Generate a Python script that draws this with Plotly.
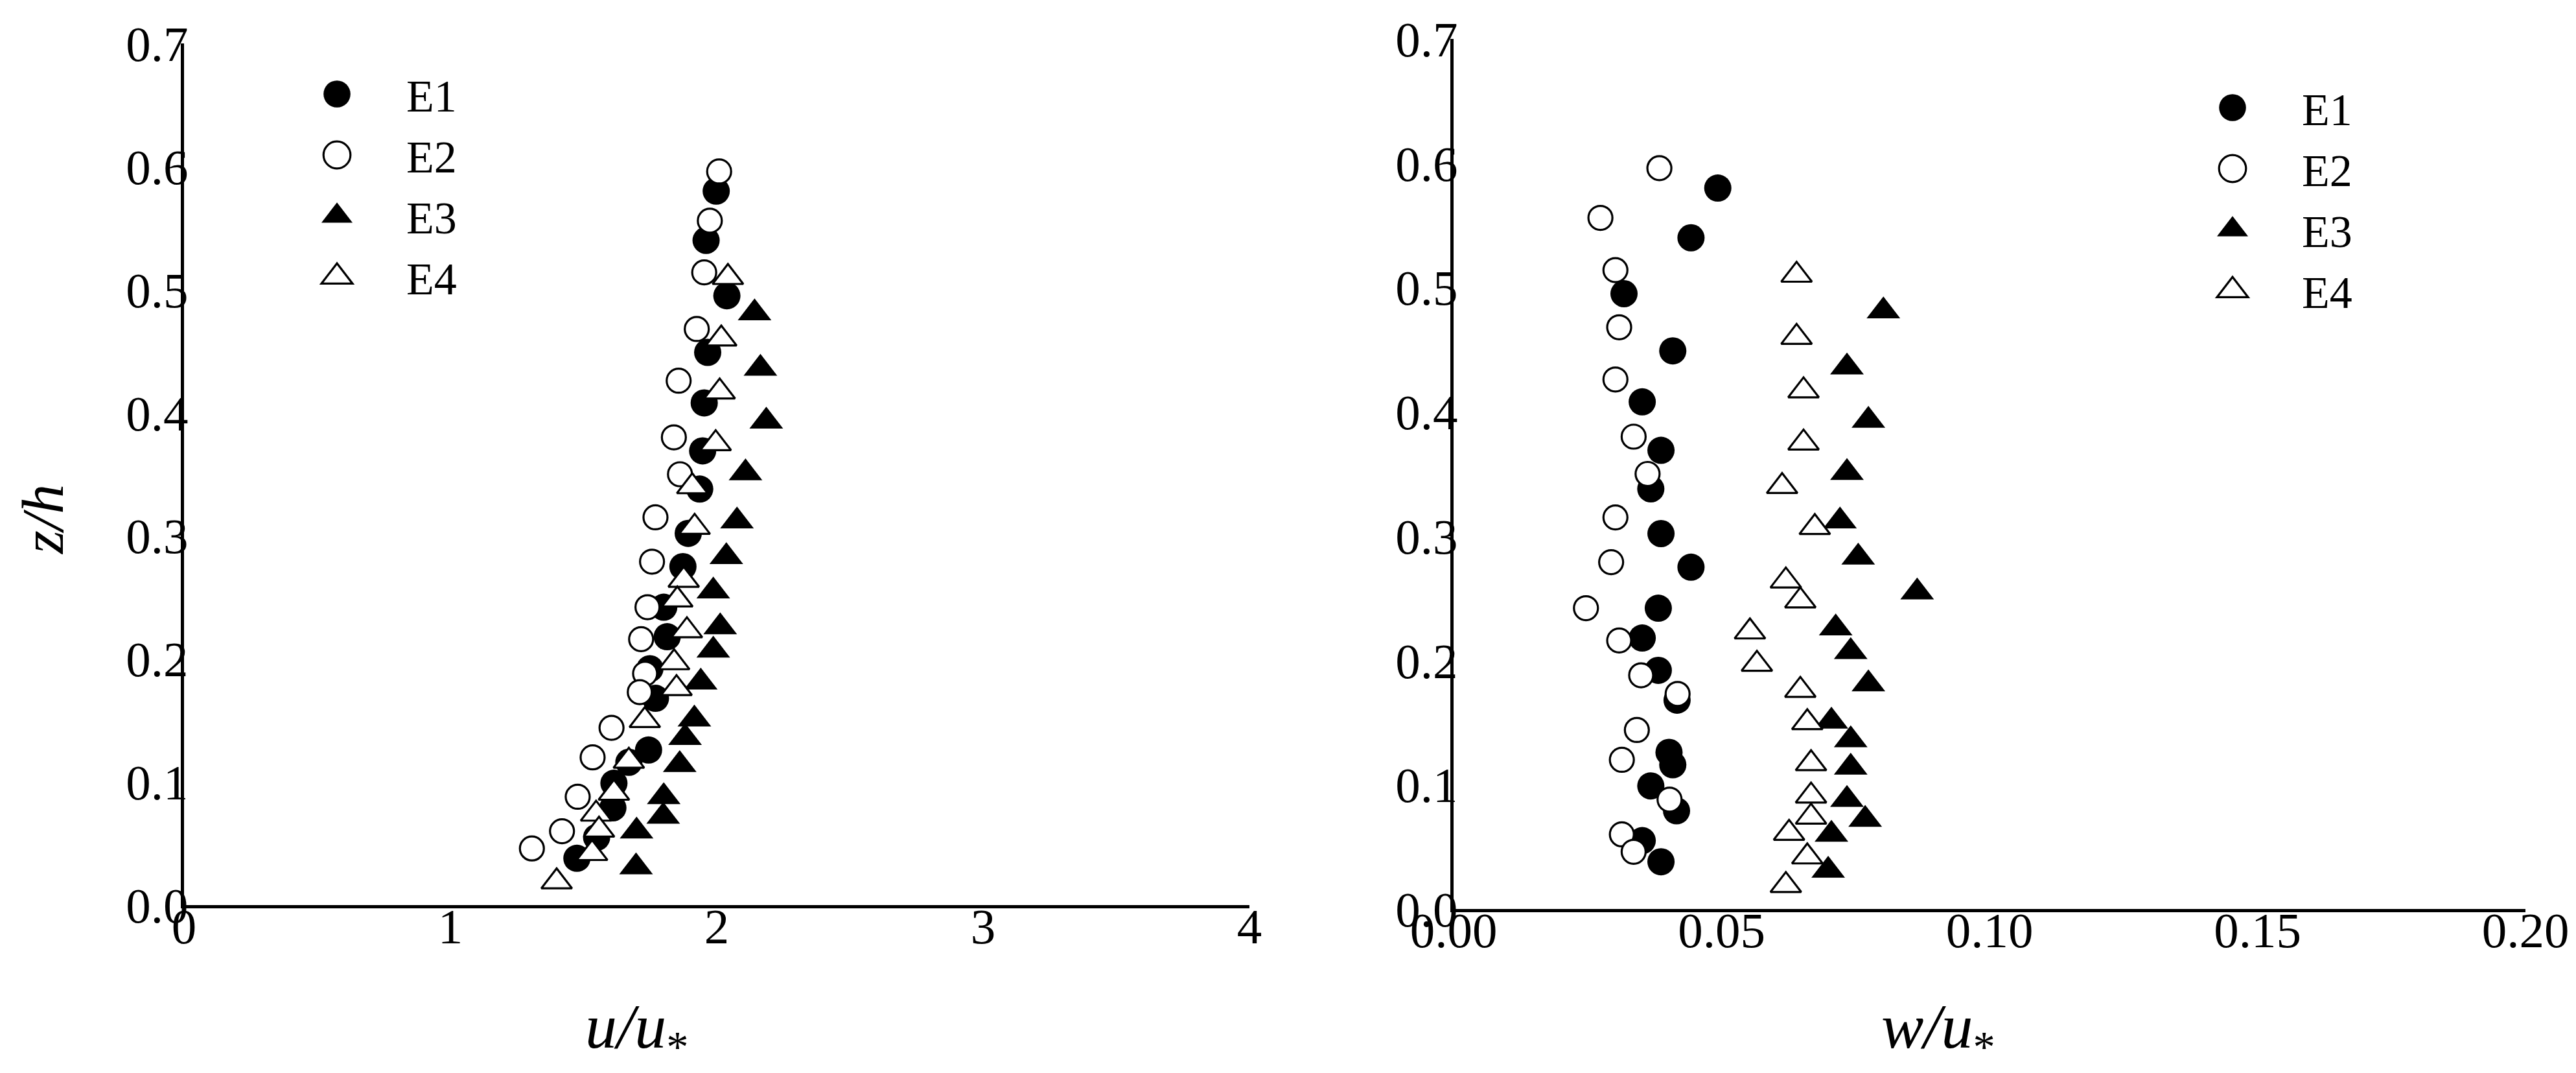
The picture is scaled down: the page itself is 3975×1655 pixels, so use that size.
import plotly.graph_objects as go

W, H = 3975, 1655
FONT = "Liberation Serif, Times New Roman, Times, serif"

# ---------------- data ----------------
# heights z/h for each run
E1_z = [0.580, 0.540, 0.495, 0.449, 0.408, 0.369, 0.338, 0.302, 0.275, 0.242,
        0.218, 0.192, 0.168, 0.126, 0.116, 0.099, 0.079, 0.055, 0.038]
E2_z = [0.596, 0.556, 0.514, 0.468, 0.426, 0.380, 0.350, 0.315, 0.279, 0.242,
        0.216, 0.188, 0.173, 0.144, 0.120, 0.088, 0.060, 0.046]
E3_z = [0.481, 0.436, 0.393, 0.351, 0.312, 0.283, 0.255, 0.226, 0.207, 0.181,
        0.151, 0.136, 0.114, 0.088, 0.072, 0.060, 0.031]
E4_z = [0.510, 0.460, 0.417, 0.375, 0.340, 0.307, 0.264, 0.248, 0.223, 0.197,
        0.176, 0.150, 0.117, 0.091, 0.074, 0.061, 0.042, 0.019]

# mean streamwise velocity u/u*
E1_u = [1.998, 1.960, 2.038, 1.966, 1.953, 1.947, 1.936, 1.893, 1.873, 1.801,
        1.814, 1.749, 1.770, 1.744, 1.670, 1.614, 1.610, 1.549, 1.475]
E2_u = [2.009, 1.974, 1.953, 1.925, 1.857, 1.839, 1.862, 1.770, 1.757, 1.740,
        1.716, 1.731, 1.711, 1.605, 1.534, 1.478, 1.419, 1.306]
E3_u = [2.142, 2.164, 2.186, 2.108, 2.076, 2.036, 1.987, 2.013, 1.987, 1.940,
        1.916, 1.881, 1.861, 1.801, 1.799, 1.699, 1.697]
E4_u = [2.042, 2.017, 2.011, 1.996, 1.908, 1.917, 1.876, 1.852, 1.888, 1.840,
        1.849, 1.730, 1.670, 1.614, 1.547, 1.558, 1.532, 1.399]

# mean vertical velocity w/u*
E1_w = [0.0493, 0.0443, 0.0318, 0.0409, 0.0352, 0.0387, 0.0368, 0.0387, 0.0443, 0.0382,
        0.0352, 0.0382, 0.0417, 0.0402, 0.0409, 0.0368, 0.0416, 0.0352, 0.0387]
E2_w = [0.0384, 0.0274, 0.0302, 0.0309, 0.0302, 0.0336, 0.0362, 0.0302, 0.0294, 0.0247,
        0.0309, 0.0350, 0.0418, 0.0342, 0.0314, 0.0403, 0.0314, 0.0336]
E3_w = [0.0802, 0.0734, 0.0774, 0.0734, 0.0721, 0.0755, 0.0865, 0.0713, 0.0741, 0.0774,
        0.0705, 0.0741, 0.0741, 0.0734, 0.0768, 0.0705, 0.0699]
E4_w = [0.0640, 0.0640, 0.0653, 0.0653, 0.0613, 0.0674, 0.0620, 0.0647, 0.0553, 0.0566,
        0.0647, 0.0660, 0.0667, 0.0667, 0.0667, 0.0626, 0.0660, 0.0620]

names = ["E1", "E2", "E3", "E4"]
u_tickvals = [0, 1, 2, 3, 4]
w_tickvals = [0.00, 0.05, 0.10, 0.15, 0.20]
z_tickvals = [0.0, 0.1, 0.2, 0.3, 0.4, 0.5, 0.6, 0.7]

# ---------------- styling ----------------
styles = {
    "E1": dict(symbol="circle", size=42, color="black", line=dict(width=0, color="black")),
    "E2": dict(symbol="circle", size=37, color="white", line=dict(width=3.2, color="black")),
    "E3": dict(symbol="triangle-up", size=45, color="black", line=dict(width=0, color="black")),
    "E4": dict(symbol="triangle-up", size=41, color="white", line=dict(width=3.2, color="black")),
}

left = {"E1": (E1_u, E1_z), "E2": (E2_u, E2_z), "E3": (E3_u, E3_z), "E4": (E4_u, E4_z)}
right = {"E1": (E1_w, E1_z), "E2": (E2_w, E2_z), "E3": (E3_w, E3_z), "E4": (E4_w, E4_z)}

fig = go.Figure()
for n in names:
    x, y = left[n]
    fig.add_trace(go.Scatter(x=x, y=y, mode="markers", name=n, marker=styles[n],
                             xaxis="x", yaxis="y", legend="legend", cliponaxis=False))
for n in names:
    x, y = right[n]
    fig.add_trace(go.Scatter(x=x, y=y, mode="markers", name=n, marker=styles[n],
                             xaxis="x2", yaxis="y2", legend="legend2", cliponaxis=False))

def px_x(p):
    return p / W

def px_y(p):
    return (H - p) / H

axis_common = dict(showline=True, linewidth=5, linecolor="black", showgrid=False,
                   zeroline=False, ticks="", mirror=False, automargin=False,
                   tickfont=dict(family=FONT, size=77, color="black"))
x_extra = dict(ticklabelstandoff=-38)
y_extra = dict(ticklabelstandoff=-27)

fig.update_layout(
    template="none",
    width=W, height=H,
    margin=dict(l=0, r=0, t=0, b=0, pad=0, autoexpand=False),
    paper_bgcolor="white", plot_bgcolor="white",
    font=dict(family=FONT, color="black"),
    xaxis=dict(domain=[px_x(284), px_x(1928)], range=[0, 4], tickvals=u_tickvals,
               ticktext=[str(v) for v in u_tickvals], anchor="y", **axis_common, **x_extra),
    yaxis=dict(domain=[px_y(1396), px_y(67)], range=[0, 0.7], tickvals=z_tickvals,
               ticktext=["%.1f" % v for v in z_tickvals], anchor="x", **axis_common, **y_extra),
    xaxis2=dict(domain=[px_x(2243), px_x(3897)], range=[0, 0.2], tickvals=w_tickvals,
                ticktext=["%.2f" % v for v in w_tickvals], anchor="y2", **axis_common, **x_extra),
    yaxis2=dict(domain=[px_y(1402), px_y(60)], range=[0, 0.7], tickvals=z_tickvals,
                ticktext=["%.1f" % v for v in z_tickvals], anchor="x2", **axis_common, **y_extra),
    legend=dict(x=px_x(413), y=px_y(93), xanchor="left", yanchor="top",
                font=dict(family=FONT, size=70, color="black"), itemwidth=204,
                bgcolor="rgba(0,0,0,0)", borderwidth=0, tracegroupgap=0),
    legend2=dict(x=px_x(3338), y=px_y(114), xanchor="left", yanchor="top",
                 font=dict(family=FONT, size=70, color="black"), itemwidth=204,
                 bgcolor="rgba(0,0,0,0)", borderwidth=0, tracegroupgap=0),
    showlegend=True,
)

fig.add_annotation(text="<i>u/u</i><sub>*</sub>", xref="paper", yref="paper",
                   x=px_x(901), y=px_y(1590), xanchor="left", yanchor="middle",
                   showarrow=False, font=dict(family=FONT, size=98, color="black"))
fig.add_annotation(text="<i>w/u</i><sub>*</sub>", xref="paper", yref="paper",
                   x=px_x(2901), y=px_y(1590), xanchor="left", yanchor="middle",
                   showarrow=False, font=dict(family=FONT, size=98, color="black"))
fig.add_annotation(text="<i>z/h</i>", xref="paper", yref="paper",
                   x=px_x(66), y=px_y(802), xanchor="center", yanchor="middle",
                   textangle=-90, showarrow=False,
                   font=dict(family=FONT, size=92, color="black"))

post = """
document.body.style.margin = '0';
var gd = document.getElementById('{plot_id}');
gd.querySelectorAll('.legendpoints path.scatterpts').forEach(function(p){
  var t = p.getAttribute('transform') || '';
  p.setAttribute('transform', t + ' scale(2.6)');
  p.style.vectorEffect = 'non-scaling-stroke';
});
"""

fig.write_html("out.html", post_script=post, config={"displayModeBar": False})
